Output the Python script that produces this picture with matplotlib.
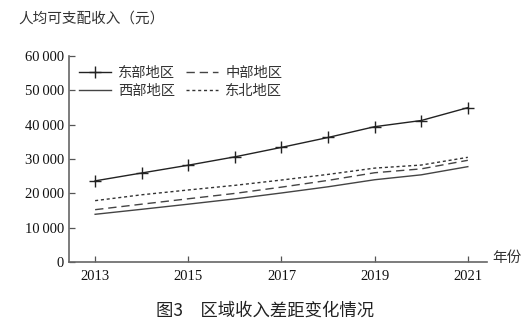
import matplotlib
matplotlib.use('Agg')
import matplotlib.pyplot as plt
from matplotlib.ticker import FuncFormatter

years = [2013, 2014, 2015, 2016, 2017, 2018, 2019, 2020, 2021]
east = [23658, 25954, 28223, 30655, 33414, 36298, 39439, 41240, 44980]
central = [15264, 16868, 18442, 20006, 21834, 23798, 26025, 27152, 29650]
west = [13919, 15376, 16868, 18407, 20130, 21935, 23986, 25416, 27798]
northeast = [17893, 19604, 21008, 22352, 23901, 25543, 27371, 28266, 30518]

yticks = [0, 10000, 20000, 30000, 40000, 50000, 60000]
xticks = [2013, 2015, 2017, 2019, 2021]

cjk = ['Noto Sans CJK SC', 'DejaVu Sans']
plt.rcParams['font.family'] = ['Liberation Serif', 'Noto Sans CJK SC']

fig = plt.figure(figsize=(5.31, 3.36), dpi=100)
ax = fig.add_axes([0.130, 0.220, 0.787, 0.613])

l1, = ax.plot(years, east, color='#222222', lw=1.0, marker='+', ms=8, mew=1.0)
l3, = ax.plot(years, west, color='#444444', lw=1.0)
l2, = ax.plot(years, central, color='#444444', lw=1.0, dashes=(6, 3.5))
l4, = ax.plot(years, northeast, color='#333333', lw=1.0, dashes=(2.2, 2))

ax.set_xlim(2012.44, 2021.41)
ax.set_ylim(0, 60000)
ax.set_xticks(xticks)
ax.set_yticks(yticks)
ax.yaxis.set_major_formatter(FuncFormatter(
    lambda v, p: '0' if v == 0 else '{:d}\u2009{:03d}'.format(int(v) // 1000, int(v) % 1000)))
ax.tick_params(direction='in', length=4, width=0.9, colors='#555555',
               labelcolor='#111111', labelsize=10.5)
ax.tick_params(axis='x', pad=6)
for s in ['top', 'right']:
    ax.spines[s].set_visible(False)
for s in ['left', 'bottom']:
    ax.spines[s].set_color('#666666')
    ax.spines[s].set_linewidth(1.2)

leg = ax.legend([l1, l3, l2, l4], ['东部地区', '西部地区', '中部地区', '东北地区'],
                ncol=2, frameon=False, loc='upper left', bbox_to_anchor=(0.0, 1.0),
                prop={'family': cjk, 'size': 10.3}, handlelength=2.2,
                handletextpad=0.55, columnspacing=0.75, labelspacing=0.3,
                borderaxespad=0.3)
for t in leg.get_texts():
    t.set_color('#333333')

fig.text(0.034, 0.945, '人均可支配收入（元）', family=cjk, fontsize=10.5,
         color='#333333', va='center', ha='left')
fig.text(0.928, 0.232, '年份', family=cjk, fontsize=10.5, color='#333333',
         va='center', ha='left')
fig.text(0.50, 0.075, '图3　区域收入差距变化情况', family=cjk, fontsize=12.5,
         color='#222222', va='center', ha='center', fontweight='medium')

fig.savefig('out.png', dpi=100)
